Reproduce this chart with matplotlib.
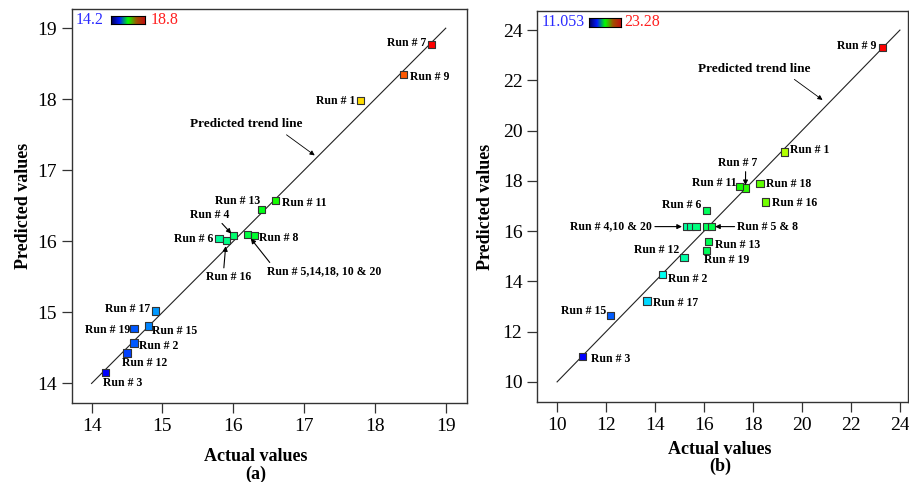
import numpy as np
import matplotlib
matplotlib.use("Agg")
import matplotlib.pyplot as plt
from matplotlib.colors import LinearSegmentedColormap, Normalize

plt.rcParams["font.family"] = ["Liberation Serif", "DejaVu Serif"]

# ---- data: panel (a) ----
runs_a = ["1", "2", "3", "4", "5", "6", "7", "8", "9", "11", "12", "13", "15", "16", "17", "19"]
actual_a = [17.80, 14.60, 14.20, 16.00, 16.20, 15.80, 18.80, 16.30, 18.40, 16.60, 14.50, 16.40, 14.80, 15.90, 14.90, 14.60]
predicted_a = [17.98, 14.57, 14.15, 16.08, 16.10, 16.04, 18.77, 16.08, 18.35, 16.58, 14.43, 16.45, 14.81, 16.01, 15.02, 14.77]
range_a = (14.2, 18.8)
trend_a = [14, 19]
ticks_a = [14, 15, 16, 17, 18, 19]

# ---- data: panel (b) ----
runs_b = ["1", "2", "3", "4", "10", "20", "5", "8", "6", "7", "9", "11", "12", "13", "15", "16", "17", "18", "19"]
actual_b = [19.28, 14.29, 11.05, 15.27, 15.46, 15.67, 16.11, 16.30, 16.09, 17.69, 23.28, 17.44, 15.18, 16.19, 12.19, 18.52, 13.67, 18.29, 16.09]
predicted_b = [19.15, 14.26, 11.01, 16.18, 16.18, 16.18, 16.18, 16.18, 16.81, 17.72, 23.30, 17.77, 14.96, 15.58, 12.64, 17.16, 13.22, 17.88, 15.22]
range_b = (11.053, 23.28)
trend_b = [10, 24]
ticks_b = [10, 12, 14, 16, 18, 20, 22, 24]

# ---- label layout: run -> (text, dx px, dy px, ha, arrow) ----
# arrow = (relpos, shrinkB) or None
labels_a = {
    "7": ("Run # 7", -5, 2, "right", None),
    "9": ("Run # 9", 7, -3, "left", None),
    "1": ("Run # 1", -5, 0, "right", None),
    "11": ("Run # 11", 6, -3, "left", None),
    "13": ("Run # 13", -1, 8, "right", None),
    "4": ("Run # 4", -24, 21, "center", ((0.76, 0), 2)),
    "6": ("Run # 6", -6, 0, "right", None),
    "16": ("Run # 16", 2, -36, "center", ((0.4, 1), 4)),
    "8": ("Run # 8", 5, -2, "left", None),
    "5": ("Run # 5,14,18, 10 & 20", 20, -37, "left", ((0.04, 1), 4)),
    "17": ("Run # 17", -5, 2, "right", None),
    "19": ("Run # 19", -4, -1, "right", None),
    "15": ("Run # 15", 4, -5, "left", None),
    "2": ("Run # 2", 5, -3, "left", None),
    "12": ("Run # 12", -5, -10, "left", None),
    "3": ("Run # 3", -3, -10, "left", None),
}
labels_b = {
    "9": ("Run # 9", -6, 2, "right", None),
    "1": ("Run # 1", 6, 2, "left", None),
    "7": ("Run # 7", -8, 25, "center", ((0.71, 0), 2)),
    "11": ("Run # 11", -3, 4, "right", None),
    "18": ("Run # 18", 6, 0, "left", None),
    "16": ("Run # 16", 6, -1, "left", None),
    "6": ("Run # 6", -5, 6, "right", None),
    "4": ("Run # 4,10 & 20", -34, 0, "right", ((1, 0.5), 3)),
    "8": ("Run # 5 & 8", 26, 0, "left", ((0, 0.5), 2.7)),
    "13": ("Run # 13", 6, -3, "left", None),
    "12": ("Run # 12", -5, 7, "right", None),
    "19": ("Run # 19", -2, -9, "left", None),
    "2": ("Run # 2", 6, -4, "left", None),
    "17": ("Run # 17", 6, -2, "left", None),
    "15": ("Run # 15", -4, 5, "right", None),
    "3": ("Run # 3", 8, -2, "left", None),
}

point_cmap = LinearSegmentedColormap.from_list(
    "de", ["#0000ff", "#00ffff", "#00ff00", "#ffff00", "#ff0000"])
bar_cmap = LinearSegmentedColormap.from_list(
    "bar", ["#000050", "#0018ff", "#00ff00", "#a05000", "#c01010"])

fig = plt.figure(figsize=(9.09, 4.82), dpi=100)
ax_a = fig.add_axes([71.7 / 909, 1 - 403 / 482, 395.3 / 909, 394 / 482])
ax_b = fig.add_axes([537 / 909, 1 - 402 / 482, 371 / 909, 391 / 482])


def draw_panel(ax, runs, actual, predicted, vrange, trend, ticks, labels,
               xlim, ylim, trend_tip, letter, xlab_pos, ylab_x):
    norm = Normalize(*vrange)
    ax.plot(trend, trend, color="#222222", lw=0.8, zorder=2)
    ax.scatter(actual, predicted, c=point_cmap(norm(actual)), marker="s", s=27,
               edgecolors="#333333", linewidths=0.8, zorder=3)

    for run, x, y in zip(runs, actual, predicted):
        if run not in labels:
            continue
        text, dx, dy, ha, arrow = labels[run]
        kw = {}
        if arrow is not None:
            relpos, shrink = arrow
            kw["arrowprops"] = dict(arrowstyle="-|>", color="black", lw=0.8,
                                    mutation_scale=7, relpos=relpos,
                                    shrinkA=0, shrinkB=shrink)
        ax.annotate(text, xy=(x, y), xytext=(dx, dy), textcoords="offset pixels",
                    ha=ha, va="center", fontsize=8.5, fontweight="bold", zorder=4, **kw)

    ax.annotate("Predicted trend line", xy=trend_tip, xytext=(-68, 31),
                textcoords="offset pixels", ha="center", va="center",
                fontsize=9.5, fontweight="bold",
                arrowprops=dict(arrowstyle="-|>", color="black", lw=0.6,
                                mutation_scale=7, relpos=(0.8, 0),
                                shrinkA=2, shrinkB=0))

    ax.set_xlim(*xlim)
    ax.set_ylim(*ylim)
    ax.set_xticks(ticks)
    ax.set_yticks(ticks)
    ax.tick_params(direction="out", length=7.5, width=0.9, color="#333333",
                   labelsize=14, pad=3, top=False, right=False)
    for s in ax.spines.values():
        s.set_color("#333333")
        s.set_linewidth(1.0)
    ax.set_xlabel("Actual values", fontsize=13, fontweight="bold")
    ax.xaxis.set_label_coords(xlab_pos[0], xlab_pos[1])
    ax.set_ylabel("Predicted values", fontsize=13, fontweight="bold")
    ax.yaxis.set_label_coords(ylab_x, 0.5)
    ax.text(xlab_pos[0], xlab_pos[1] - 0.043, letter, transform=ax.transAxes,
            ha="center", va="top", fontsize=13, fontweight="bold")


draw_panel(ax_a, runs_a, actual_a, predicted_a, range_a, trend_a, ticks_a, labels_a,
           (13.72, 19.3), (13.725, 19.27), (17.15, 17.21), "(a)", (0.465, -0.115), -0.10)
draw_panel(ax_b, runs_b, actual_b, predicted_b, range_b, trend_b, ticks_b, labels_b,
           (9.18, 24.33), (9.2, 24.76), (20.84, 21.22), "(b)", (0.493, -0.10), -0.115)

# small colour keys
grad = np.linspace(0, 1, 256)[None, :]
for rect, lo, hi, lo_x, hi_x, ty in [
        ([111 / 909, 1 - 24.3 / 482, 34 / 909, 8.6 / 482], range_a[0], range_a[1], 76, 150.7, 20),
        ([589 / 909, 1 - 26.7 / 482, 32 / 909, 9 / 482], range_b[0], range_b[1], 541.7, 624.3, 22.3)]:
    cax = fig.add_axes(rect)
    cax.imshow(grad, aspect="auto", cmap=bar_cmap)
    cax.set_xticks([])
    cax.set_yticks([])
    for s in cax.spines.values():
        s.set_linewidth(0.8)
    fig.text(lo_x / 909, 1 - ty / 482, f"{lo:g}", color="#2a2aff", fontsize=11.5,
             ha="left", va="center")
    fig.text(hi_x / 909, 1 - ty / 482, f"{hi:g}", color="#ff2020", fontsize=11.5,
             ha="left", va="center")

fig.savefig("out.png", dpi=100)
